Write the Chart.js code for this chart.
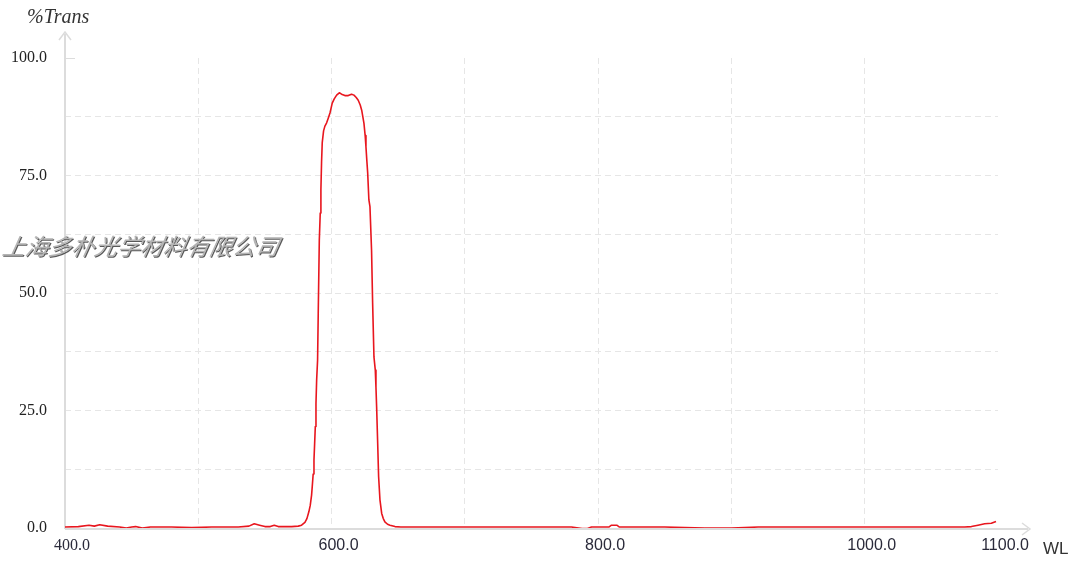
<!DOCTYPE html>
<html>
<head>
<meta charset="utf-8">
<script src="https://cdn.jsdelivr.net/npm/chart.js@4/dist/chart.umd.min.js"></script>
<style>
  html, body { margin: 0; padding: 0; background: #ffffff; }
  #wrap { width: 1084px; height: 567px; position: relative; }
</style>
</head>
<body>
<div id="wrap"><canvas id="c" width="1084" height="567"></canvas></div>
<script>
// ---- data (wavelength nm, % transmission) ----
const wavelengths = [400,410,418,422,426,432,441,446,450,453,458,464,480,495,510,530,538,542,546,550,554,557,560,570,575,577.5,580,581.5,583,584,585,585.5,586.2,586.8,587.3,587.8,588.3,588.8,589.5,590,590.8,591.5,592,592.5,593,594,595,596.3,597.5,598.8,600.5,602,603.8,605.8,607.5,610,612.5,615,616.8,618.5,620,621.5,622.6,624.3,625.2,625.8,626.5,627.1,628,628.8,630,630.8,631.8,632.8,633.3,633.8,634.6,635.3,636.3,637.6,638.8,640,642,643.8,647.6,652,660,680,700,740,780,788,792,795,808,810,814,816,850,880,900,920,960,1075,1080,1085,1090,1095,1098.5];
const transmission = [0.2,0.3,0.6,0.4,0.7,0.4,0.2,0.0,0.2,0.3,0.0,0.2,0.2,0.1,0.2,0.2,0.4,0.9,0.6,0.3,0.3,0.6,0.3,0.3,0.4,0.6,1.2,2.0,3.5,4.8,7.0,8.8,11.5,14.5,18,21.6,26.5,31.5,35.7,45.7,61.3,67,72,78,82,84.5,85.5,86.2,87.2,88.3,90.4,91.3,92.1,92.6,92.3,92.0,92.0,92.3,92.1,91.6,91.0,90.0,88.9,86.1,83.5,81.1,78,75.5,69.8,68.4,59.1,47.9,36.4,33.6,30,25.8,18,10.9,6.0,3.1,2.0,1.3,0.8,0.6,0.3,0.2,0.2,0.2,0.2,0.2,0.2,-0.1,-0.1,0.2,0.2,0.6,0.6,0.2,0.2,0.0,0.0,0.2,0.2,0.2,0.3,0.6,0.9,1.0,1.4];
const xLabelValues = [400,600,800,1000,1100];
const yLabelValues = [0,25,50,75,100];
const yAxisTitle = '%Trans';
const xAxisTitle = 'WL';
const watermark = '上海多朴光学材料有限公司';

const points = wavelengths.map((w, i) => ({ x: w, y: transmission[i] }));

const AXIS_COLOR = '#dcdcdc';
const GRID_COLOR = '#e6e6e6';

const decorPlugin = {
  id: 'decor',
  beforeDatasetsDraw(chart) {
    const ctx = chart.ctx;
    const a = chart.chartArea;
    ctx.save();
    ctx.strokeStyle = AXIS_COLOR;
    ctx.lineWidth = 2;
    ctx.beginPath();
    ctx.moveTo(a.left, a.bottom + 1);
    ctx.lineTo(a.left, 34);
    ctx.moveTo(a.left, a.bottom + 1);
    ctx.lineTo(1028, a.bottom + 1);
    ctx.stroke();
    ctx.lineWidth = 1.5;
    ctx.beginPath();
    ctx.moveTo(a.left - 6, 40); ctx.lineTo(a.left, 32); ctx.lineTo(a.left + 6, 40);
    ctx.moveTo(1022, a.bottom - 5); ctx.lineTo(1030, a.bottom + 1); ctx.lineTo(1022, a.bottom + 7);
    ctx.stroke();
    ctx.lineWidth = 1;
    ctx.beginPath();
    ctx.moveTo(a.left, a.top + 0.5); ctx.lineTo(a.left + 10, a.top + 0.5);
    ctx.stroke();
    ctx.restore();
  },
  afterDraw(chart) {
    const ctx = chart.ctx;
    ctx.save();
    ctx.fillStyle = '#333333';
    ctx.font = 'italic 20px "Liberation Serif", serif';
    ctx.textAlign = 'left';
    ctx.textBaseline = 'middle';
    ctx.fillText(yAxisTitle, 27, 18);
    ctx.font = '17px "Liberation Sans", sans-serif';
    ctx.fillText(xAxisTitle, 1043, 549);
    // watermark
    ctx.font = 'italic 23px "Noto Sans CJK SC", sans-serif';
    ctx.textBaseline = 'middle';
    ctx.shadowColor = 'rgba(60,60,60,0.85)';
    ctx.shadowOffsetX = 1;
    ctx.shadowOffsetY = 1;
    ctx.shadowBlur = 0;
    ctx.fillStyle = '#b4b4b4';
    ctx.save();
    ctx.translate(3, 246);
    ctx.transform(1, 0, -0.2, 1, 0, 0);
    ctx.fillText(watermark, 0, 0);
    ctx.restore();
    ctx.restore();
  }
};

new Chart(document.getElementById('c'), {
  type: 'scatter',
  data: {
    datasets: [{
      data: points,
      showLine: true,
      borderColor: '#e8161e',
      borderWidth: 1.6,
      borderJoinStyle: 'round',
      pointRadius: 0,
      tension: 0,
      fill: false
    }]
  },
  options: {
    responsive: false,
    animation: false,
    devicePixelRatio: 1,
    layout: { padding: { top: 58, right: 86, left: 0, bottom: 0 } },
    plugins: { legend: { display: false }, tooltip: { enabled: false } },
    scales: {
      x: {
        type: 'linear',
        min: 400, max: 1100,
        afterFit(s) { s.height = 39; s.paddingLeft = 0; s.paddingRight = 0; },
        border: { display: false, dash: [6, 4] },
        grid: {
          drawTicks: false, tickLength: 0,
          color: c => (c.tick && (c.tick.value === 400 || c.tick.value === 1100)) ? 'rgba(0,0,0,0)' : GRID_COLOR,
          lineWidth: 1
        },
        ticks: {
          stepSize: 100,
          autoSkip: false,
          maxRotation: 0,
          padding: 8,
          labelOffset: 7,
          color: '#2a2a3a',
          font: c => ({ size: 16, family: (c.tick && c.tick.value === 400) ? '"Liberation Serif", serif' : '"Liberation Sans", sans-serif' }),
          callback: v => xLabelValues.includes(v) ? v.toFixed(1) : ''
        }
      },
      y: {
        min: 0, max: 100,
        afterFit(s) { s.width = 65; },
        border: { display: false, dash: [6, 4] },
        grid: {
          drawTicks: false, tickLength: 0,
          color: c => (c.tick && (c.tick.value === 0 || c.tick.value === 100)) ? 'rgba(0,0,0,0)' : GRID_COLOR,
          lineWidth: 1
        },
        ticks: {
          stepSize: 12.5,
          autoSkip: false,
          padding: 18,
          color: '#222222',
          font: { size: 16, family: '"Liberation Serif", serif' },
          callback: v => yLabelValues.includes(v) ? v.toFixed(1) : ''
        }
      }
    }
  },
  plugins: [decorPlugin]
});
</script>
</body>
</html>
